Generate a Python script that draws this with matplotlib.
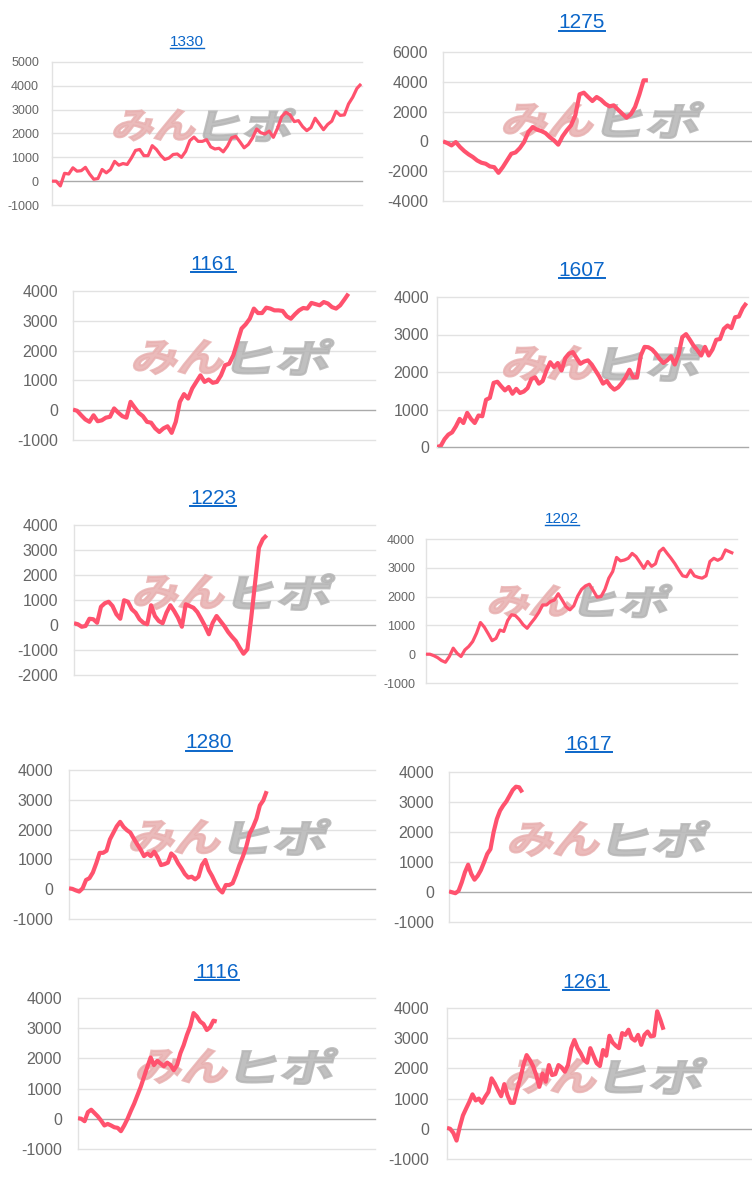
"""Grid of ten small balance charts with linked titles and a watermark."""

import matplotlib

matplotlib.use("Agg")
import matplotlib.pyplot as plt
from matplotlib.font_manager import FontProperties
from matplotlib.lines import Line2D
from matplotlib.patches import PathPatch
from matplotlib.textpath import TextPath
from matplotlib.transforms import Affine2D, IdentityTransform

# --- data -------------------------------------------------------------------
TITLES = ["1330", "1275", "1161", "1607", "1223", "1202", "1280", "1617", "1116", "1261"]

S1330 = [0, 0, -200, 330, 300, 560, 420, 440, 580, 300, 80, 110, 490, 350, 490, 830,
         670, 740, 700, 970, 1290, 1330, 1070, 1070, 1490, 1330, 1090, 910, 970, 1120,
         1140, 1000, 1250, 1700, 1850, 1670, 1670, 1740, 1440, 1350, 1380, 1230, 1470,
         1820, 1880, 1650, 1400, 1540, 1810, 2190, 2030, 1980, 2100, 1840, 2220, 2710,
         2890, 2780, 2500, 2540, 2290, 2120, 2250, 2640, 2400, 2160, 2380, 2520, 2930,
         2760, 2780, 3240, 3520, 3890, 4080]
S1275 = [0, -110, -270, -45, -380, -650, -870, -1050, -1280, -1430, -1500, -1680, -1730,
         -2110, -1730, -1280, -830, -740, -450, -45, 630, 960, 790, 700, 560, 290, 70,
         -220, 340, 740, 1080, 1750, 3160, 3270, 2980, 2710, 2980, 2800, 2530, 2350,
         2420, 2130, 1860, 1590, 1820, 2310, 3140, 4100, 4100]
S1161 = [20, -20, -170, -310, -390, -170, -370, -340, -250, -220, 60, -80, -200, -250,
         280, 90, -90, -200, -390, -420, -610, -730, -610, -540, -760, -390, 280, 540,
         390, 730, 950, 1170, 950, 1030, 920, 950, 1170, 1510, 1560, 1840, 2290, 2740,
         2880, 3070, 3410, 3260, 3260, 3440, 3410, 3350, 3350, 3330, 3150, 3070, 3220,
         3350, 3430, 3410, 3600, 3560, 3520, 3630, 3580, 3460, 3410, 3520, 3710, 3910]
S1607 = [0, 30, 210, 330, 390, 550, 750, 640, 910, 750, 640, 840, 820, 1260, 1310, 1710,
         1740, 1620, 1510, 1600, 1420, 1550, 1440, 1480, 1570, 1810, 1860, 1690, 1760,
         2040, 2260, 2130, 2240, 2040, 2370, 2490, 2530, 2370, 2220, 2280, 2310, 2200,
         2040, 1880, 1690, 1760, 1620, 1530, 1590, 1710, 1860, 2060, 1860, 1860, 2440,
         2670, 2660, 2600, 2490, 2350, 2240, 2310, 2420, 2200, 2460, 2930, 3010, 2860,
         2700, 2580, 2440, 2670, 2440, 2600, 2860, 2880, 3150, 3240, 3170, 3460, 3480,
         3700, 3840]
S1223 = [70, 30, -70, -40, 250, 230, 90, 730, 870, 930, 760, 430, 250, 990, 930, 630,
         490, 230, 90, 30, 790, 360, 160, 70, 490, 790, 560, 290, -70, 830, 760, 690,
         520, 250, -40, -370, 90, 360, 160, -40, -280, -470, -640, -910, -1150, -970,
         290, 1690, 3090, 3430, 3590]
S1202 = [0, 0, -50, -120, -220, -280, -80, 210, 30, -80, 150, 270, 440, 730, 1100, 940,
         710, 470, 550, 840, 790, 1170, 1370, 1340, 1200, 1020, 900, 1080, 1250, 1450,
         1710, 1710, 1830, 1880, 2100, 1880, 1650, 1540, 1680, 2020, 2250, 2370, 2430,
         2210, 1980, 2000, 2250, 2640, 2870, 3360, 3240, 3270, 3330, 3500, 3390, 3190,
         2980, 3220, 3050, 3140, 3560, 3680, 3500, 3330, 3140, 2920, 2720, 2690, 2920,
         2720, 2670, 2640, 2720, 3220, 3330, 3260, 3330, 3620, 3560, 3500]
S1280 = [30, 10, -40, -80, 30, 310, 370, 560, 870, 1220, 1220, 1290, 1670, 1890, 2110,
         2260, 2090, 1980, 1900, 1700, 1510, 1330, 1110, 1200, 1110, 1260, 1070, 810, 840,
         890, 1200, 1090, 870, 700, 510, 390, 420, 330, 420, 810, 980, 640, 440, 200, 0,
         -110, 140, 140, 200, 480, 810, 1090, 1420, 1870, 2090, 2370, 2810, 2980, 3290]
S1617 = [20, -10, -40, 40, 320, 660, 910, 600, 410, 540, 730, 990, 1270, 1430, 2000,
         2430, 2710, 2880, 3020, 3210, 3400, 3510, 3490, 3320]
S1116 = [20, 0, -80, 220, 300, 190, 80, -60, -220, -170, -220, -280, -300, -410, -220, 0,
         260, 500, 780, 1060, 1390, 1720, 2030, 1780, 1920, 1830, 1740, 1860, 1780, 1610,
         1780, 2170, 2440, 2780, 3060, 3500, 3390, 3220, 3140, 2940, 3030, 3250, 3220]
S1261 = [30, 0, -140, -390, 60, 440, 670, 890, 1140, 940, 1000, 860, 1060, 1220, 1670,
         1500, 1280, 1080, 1480, 1110, 860, 860, 1280, 1670, 2110, 2440, 2280, 2080, 1780,
         1390, 1830, 1560, 2110, 1780, 1810, 2110, 2030, 1890, 2110, 2670, 2940, 2670,
         2500, 2280, 2190, 2670, 2420, 2170, 2080, 2610, 2420, 3080, 2860, 2750, 2670,
         3170, 3110, 3280, 3000, 2920, 3110, 2780, 3110, 3220, 3060, 3080, 3890, 3610, 3280]
SERIES = [S1330, S1275, S1161, S1607, S1223, S1202, S1280, S1617, S1116, S1261]

YTICKS = [
    [-1000, 0, 1000, 2000, 3000, 4000, 5000],
    [-4000, -2000, 0, 2000, 4000, 6000],
    [-1000, 0, 1000, 2000, 3000, 4000],
    [0, 1000, 2000, 3000, 4000],
    [-2000, -1000, 0, 1000, 2000, 3000, 4000],
    [-1000, 0, 1000, 2000, 3000, 4000],
    [-1000, 0, 1000, 2000, 3000, 4000],
    [-1000, 0, 1000, 2000, 3000, 4000],
    [-1000, 0, 1000, 2000, 3000, 4000],
    [-1000, 0, 1000, 2000, 3000, 4000],
]

# --- layout (pixels) --------------------------------------------------------
W, H = 752, 1183
# plot box (left, right, top, bottom), title centre (x, y), small fonts?,
# tick pad, share of x range covered by data, watermark centre and width
LAYOUT = [
    dict(box=(52, 362, 62, 205), title=(187, 42), small=True, pad=13, xfrac=0.997, logo=(204, 125, 176)),
    dict(box=(443, 752, 52, 201), title=(582, 23), small=False, pad=15, xfrac=0.663, logo=(603, 120, 194)),
    dict(box=(73, 375, 291, 440), title=(213, 264), small=False, pad=15, xfrac=0.912, logo=(233, 357, 194)),
    dict(box=(437, 748, 297, 447), title=(582, 270), small=False, pad=8, xfrac=0.995, logo=(603, 363, 194)),
    dict(box=(74, 375, 525, 675), title=(213, 498), small=False, pad=16, xfrac=0.640, logo=(234, 592, 194)),
    dict(box=(426, 737, 539, 683), title=(562, 519), small=True, pad=11, xfrac=0.988, logo=(580, 601, 177)),
    dict(box=(69, 375, 770, 919), title=(209, 743), small=False, pad=16, xfrac=0.646, logo=(230, 837, 194)),
    dict(box=(449, 752, 772, 922), title=(589, 744), small=False, pad=15, xfrac=0.242, logo=(609, 839, 194)),
    dict(box=(78, 375, 998, 1149), title=(217, 972), small=False, pad=16, xfrac=0.467, logo=(237, 1066, 194)),
    dict(box=(447, 752, 1008, 1159), title=(586, 982), small=False, pad=18, xfrac=0.710, logo=(606, 1076, 194)),
]

LINE_COLOR = "#ff526e"
LINK_COLOR = "#0b66c9"
LOGO_FONT = FontProperties(family="Noto Sans CJK JP", weight="bold")

plt.rcParams["font.family"] = ["Liberation Sans", "DejaVu Sans"]


def logo_part(ax, text, x0, yc, w, h, color):
    path = TextPath((0, 0), text, size=1, prop=LOGO_FONT)
    ext = path.get_extents()
    tr = (Affine2D()
          .translate(-ext.x0, -(ext.y0 + ext.y1) / 2)
          .scale(w / ext.width, h / ext.height)
          .skew_deg(14, 0)
          .translate(x0, H - yc))
    ax.add_patch(PathPatch(path, transform=tr + IdentityTransform(), facecolor=color,
                           edgecolor=color, linewidth=1.6, alpha=0.85, zorder=1.5,
                           clip_on=False))


fig = plt.figure(figsize=(W / 100, H / 100), dpi=100)
titles = []
for series, ticks, name, lay in zip(SERIES, YTICKS, TITLES, LAYOUT):
    left, right, top, bottom = lay["box"]
    ax = fig.add_axes([left / W, 1 - bottom / H, (right - left) / W, (bottom - top) / H])
    n = len(series)
    ax.plot(range(n), series, color=LINE_COLOR, linewidth=2.3 if lay["small"] else 3.0,
            solid_joinstyle="round", solid_capstyle="butt", zorder=3)
    ax.set_xlim(0, (n - 1) / lay["xfrac"])
    ax.set_ylim(ticks[0], ticks[-1])
    ax.set_yticks(ticks)
    ax.set_yticklabels([str(t) for t in ticks])
    ax.set_xticks([])
    ax.tick_params(axis="y", length=0, pad=lay["pad"] * 0.72, labelcolor="#666666",
                   labelsize=9 if lay["small"] else 11.5)
    for t in ticks:
        ax.axhline(t, color="#aaaaaa" if t == 0 else "#e2e2e2", linewidth=1.0,
                   zorder=2 if t == 0 else 1, clip_on=False)
    for side in ["top", "right", "bottom"]:
        ax.spines[side].set_visible(False)
    ax.spines["left"].set_color("#e2e2e2")
    ax.spines["left"].set_linewidth(1.0)

    cx, cy, lw = lay["logo"]
    lh = lw * 0.175
    logo_part(ax, "みん", cx - lw / 2, cy, lw * 0.455, lh, "#e8b0b0")
    logo_part(ax, "ヒポ", cx - lw / 2 + lw * 0.51, cy, lw * 0.49, lh * 1.05, "#b5b5b5")

    tx, ty = lay["title"]
    titles.append(fig.text(tx / W, 1 - ty / H, name, ha="center", va="center",
                           color=LINK_COLOR, fontsize=11 if lay["small"] else 15))

# underline the linked titles
fig.canvas.draw()
renderer = fig.canvas.get_renderer()
for txt in titles:
    bb = txt.get_window_extent(renderer)
    y = bb.y0 + 1.5
    fig.add_artist(Line2D([bb.x0, bb.x1], [y, y], color=LINK_COLOR,
                          linewidth=1.0 if txt.get_fontsize() < 12 else 1.4,
                          transform=IdentityTransform()))

fig.savefig("out.png", dpi=100)
plt.close(fig)
